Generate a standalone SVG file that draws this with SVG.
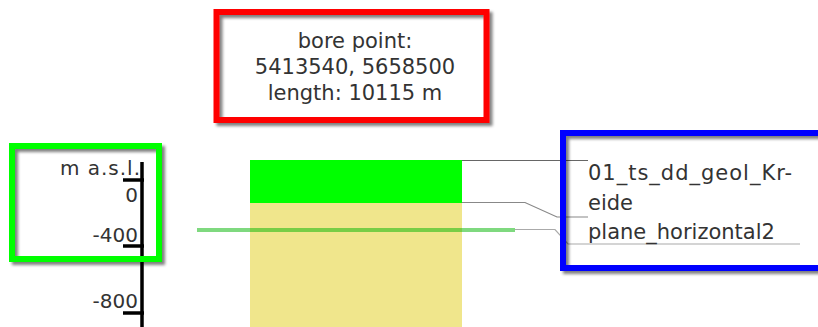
<svg xmlns="http://www.w3.org/2000/svg" width="818" height="327" viewBox="0 0 818 327">
  <style>
    .t { font-family: "DejaVu Sans", Verdana, sans-serif; fill: #333333; }
    .box { fill: none; stroke-width: 6; filter: url(#sh); }
    .axis { stroke: #000000; stroke-width: 3.5; fill: none; }
  </style>
  <defs>
    <filter id="sh" x="-10%" y="-10%" width="125%" height="130%">
      <feGaussianBlur in="SourceAlpha" stdDeviation="1.5" result="b"/>
      <feOffset in="b" dx="3" dy="3" result="o"/>
      <feComponentTransfer in="o" result="s">
        <feFuncA type="linear" slope="0.5"/>
      </feComponentTransfer>
      <feMerge>
        <feMergeNode in="s"/>
        <feMergeNode in="SourceGraphic"/>
      </feMerge>
    </filter>
  </defs>

  <g id="layer-kreide">
    <rect x="250" y="160" width="212" height="43" fill="#00ff00"/>
  </g>
  <g id="layer-base">
    <rect x="250" y="203" width="212" height="124" fill="#f0e68c"/>
  </g>
  <g id="plane-horizontal2">
    <line x1="197" y1="230" x2="515" y2="230" stroke="#00b400" stroke-opacity="0.5" stroke-width="4"/>
  </g>

  <g id="connectors" fill="none" stroke-width="1.2">
    <polyline points="462,160.5 588,160.5" stroke="#666666"/>
    <polyline points="462,202.5 525,202.5 557,217 588,217" stroke="#888888"/>
    <polyline points="515,229.5 555,229.5 568,244 800,244" stroke="#aaaaaa"/>
  </g>

  <g id="axis">
    <line class="axis" x1="142" y1="162" x2="142" y2="327"/>
    <line class="axis" x1="123" y1="180" x2="144" y2="180"/>
    <line class="axis" x1="123" y1="246" x2="144" y2="246"/>
    <line class="axis" x1="123" y1="313" x2="144" y2="313"/>
    <text class="t" x="60" y="175" font-size="20" textLength="80" lengthAdjust="spacing">m a.s.l.</text>
    <text class="t" x="138" y="202" font-size="20" text-anchor="end">0</text>
    <text class="t" x="138" y="242" font-size="20" text-anchor="end">-400</text>
    <text class="t" x="138" y="308" font-size="20" text-anchor="end">-800</text>
  </g>

  <g id="axis-box">
    <rect class="box" x="12" y="146" width="147" height="113" stroke="#00ff00"/>
  </g>

  <g id="bore-info">
    <rect class="box" x="216.5" y="12" width="270" height="108" stroke="#ff0000"/>
    <text class="t" x="355" y="48" font-size="21" text-anchor="middle">bore point:</text>
    <text class="t" x="355" y="74" font-size="21" text-anchor="middle">5413540, 5658500</text>
    <text class="t" x="355" y="100" font-size="21" text-anchor="middle">length: 10115 m</text>
  </g>

  <g id="legend">
    <rect class="box" x="563" y="133" width="270" height="135" stroke="#0000ff"/>
    <text class="t" x="588" y="180" font-size="21" textLength="204" lengthAdjust="spacing">01_ts_dd_geol_Kr-</text>
    <text class="t" x="588" y="210" font-size="21">eide</text>
    <text class="t" x="588" y="239" font-size="21">plane_horizontal2</text>
  </g>
</svg>
